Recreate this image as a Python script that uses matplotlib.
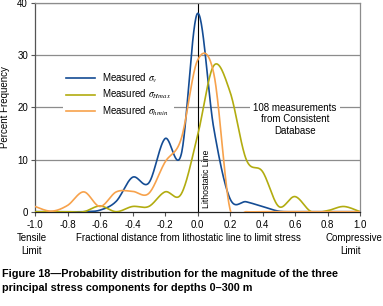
import numpy as np
import matplotlib
matplotlib.use("Agg")
import matplotlib.pyplot as plt

# ---- data ----
x_bins = [-1.0, -0.9, -0.8, -0.7, -0.6, -0.5, -0.4, -0.3, -0.2, -0.1,
          0.0, 0.1, 0.2, 0.3, 0.4, 0.5, 0.6, 0.7, 0.8, 0.9, 1.0]
sigma_v = [0, 0, 0, 0, 0.3, 2.0, 6.6, 5.5, 14.0, 11.0,
           38.0, 16.0, 2.5, 1.9, 1.0, 0.1, 0, 0, 0, 0, 0]
sigma_hmax = [0, 0, 0, 0, 1.1, 0, 1.0, 1.0, 3.8, 3.4,
              14.5, 28.0, 23.0, 10.0, 7.7, 1.0, 2.9, 0, 0.2, 1.0, 0]
sigma_hmin = [1.0, 0.1, 1.2, 3.8, 1.0, 3.8, 3.9, 3.5, 9.5, 14.0,
              29.0, 26.5, 0.5, 0, 0, 0, 0, 0, 0, 0, 0]
series_labels = [r"Measured $\sigma_{v}$", r"Measured $\sigma_{Hmax}$",
                 r"Measured $\sigma_{hmin}$"]
x_ticks = [-1.0, -0.8, -0.6, -0.4, -0.2, 0.0, 0.2, 0.4, 0.6, 0.8, 1.0]
y_ticks = [0, 10, 20, 30, 40]

colors = ["#144C94", "#B2AC10", "#F7A24C"]

plt.rcParams['font.family'] = ['Liberation Sans', 'DejaVu Sans']
plt.rcParams['mathtext.fontset'] = 'stix'


def smooth(xs, ys, n=30):
    """Catmull-Rom style smoothing similar to spreadsheet 'smoothed line'."""
    xs = np.asarray(xs, float)
    ys = np.asarray(ys, float)
    px = np.concatenate([[xs[0]], xs, [xs[-1]]])
    py = np.concatenate([[ys[0]], ys, [ys[-1]]])
    ox, oy = [], []
    for i in range(1, len(px) - 2):
        p0x, p1x, p2x, p3x = px[i - 1], px[i], px[i + 1], px[i + 2]
        p0y, p1y, p2y, p3y = py[i - 1], py[i], py[i + 1], py[i + 2]
        c1x = p1x + (p2x - p0x) / 6
        c1y = p1y + (p2y - p0y) / 6
        c2x = p2x - (p3x - p1x) / 6
        c2y = p2y - (p3y - p1y) / 6
        t = np.linspace(0, 1, n, endpoint=False)
        b0 = (1 - t) ** 3
        b1 = 3 * (1 - t) ** 2 * t
        b2 = 3 * (1 - t) * t ** 2
        b3 = t ** 3
        ox.append(b0 * p1x + b1 * c1x + b2 * c2x + b3 * p2x)
        oy.append(b0 * p1y + b1 * c1y + b2 * c2y + b3 * p2y)
    ox.append([xs[-1]])
    oy.append([ys[-1]])
    return np.concatenate(ox), np.concatenate(oy)


fig = plt.figure(figsize=(3.83, 3.06), dpi=100)
ax = fig.add_axes([35 / 383, 1 - 211.7 / 306, 325 / 383, (211.7 - 3) / 306])

ax.set_xlim(-1.0, 1.0)
ax.set_ylim(0, 40)

for yv in [10, 20, 30, 40]:
    ax.axhline(yv, color="#8c8c8c", lw=0.9, zorder=1)

ax.axvline(0, color="black", lw=0.8, zorder=2)

lines = []
for ys, c, lab in zip([sigma_v, sigma_hmax, sigma_hmin], colors, series_labels):
    sx, sy = smooth(x_bins, ys)
    ln, = ax.plot(sx, sy, color=c, lw=1.2, label=lab, zorder=3, clip_on=True)
    lines.append(ln)

ax.set_xticks(x_ticks)
ax.set_xticklabels([f"{v:.1f}" for v in x_ticks])
ax.set_yticks(y_ticks)
ax.tick_params(axis='both', labelsize=7, length=3, width=0.8, color="#555555", pad=2)
ax.tick_params(axis='x', pad=3)

for s in ['top', 'right']:
    ax.spines[s].set_color("#8c8c8c")
    ax.spines[s].set_linewidth(0.9)
ax.spines['left'].set_color("#555555")
ax.spines['left'].set_linewidth(0.9)
ax.spines['bottom'].set_color("#222222")
ax.spines['bottom'].set_linewidth(0.9)

ax.set_ylabel("Percent Frequency", fontsize=7, labelpad=5)
ax.text(-0.058, -5.1, "Fractional distance from lithostatic line to limit stress",
        fontsize=7, ha='center', va='center')
ax.text(-1.02, -6.3, "Tensile\nLimit", fontsize=7, ha='center', va='center',
        linespacing=1.3)
ax.text(0.963, -5.1, "Compressive", fontsize=7, ha='center', va='center')
ax.text(0.94, -7.5, "Limit", fontsize=7, ha='center', va='center')

ax.text(0.055, 6.3, "Lithostatic Line", rotation=90, fontsize=6.3,
        ha='center', va='center', zorder=4)

ax.text(0.6, 17.7, "108 measurements\nfrom Consistent\nDatabase", fontsize=7,
        ha='center', va='center', linespacing=1.15, zorder=4,
        bbox=dict(facecolor='white', edgecolor='none', pad=2.5))

leg = ax.legend(handles=lines, loc='upper left', bbox_to_anchor=(0.07, 0.71),
                fontsize=7, frameon=True, facecolor='white', edgecolor='none',
                framealpha=1, handlelength=3.0, handletextpad=0.7,
                labelspacing=0.32, borderpad=0.3, fancybox=False)
leg.set_zorder(5)

fig.text(0.004, 1 - 281 / 306,
         "Figure 18\u2014Probability distribution for the magnitude of the three\n"
         "principal stress components for depths 0\u2013300 m",
         fontsize=7.8, fontweight='bold', ha='left', va='center', linespacing=1.45)

fig.savefig("out.png", dpi=100)
